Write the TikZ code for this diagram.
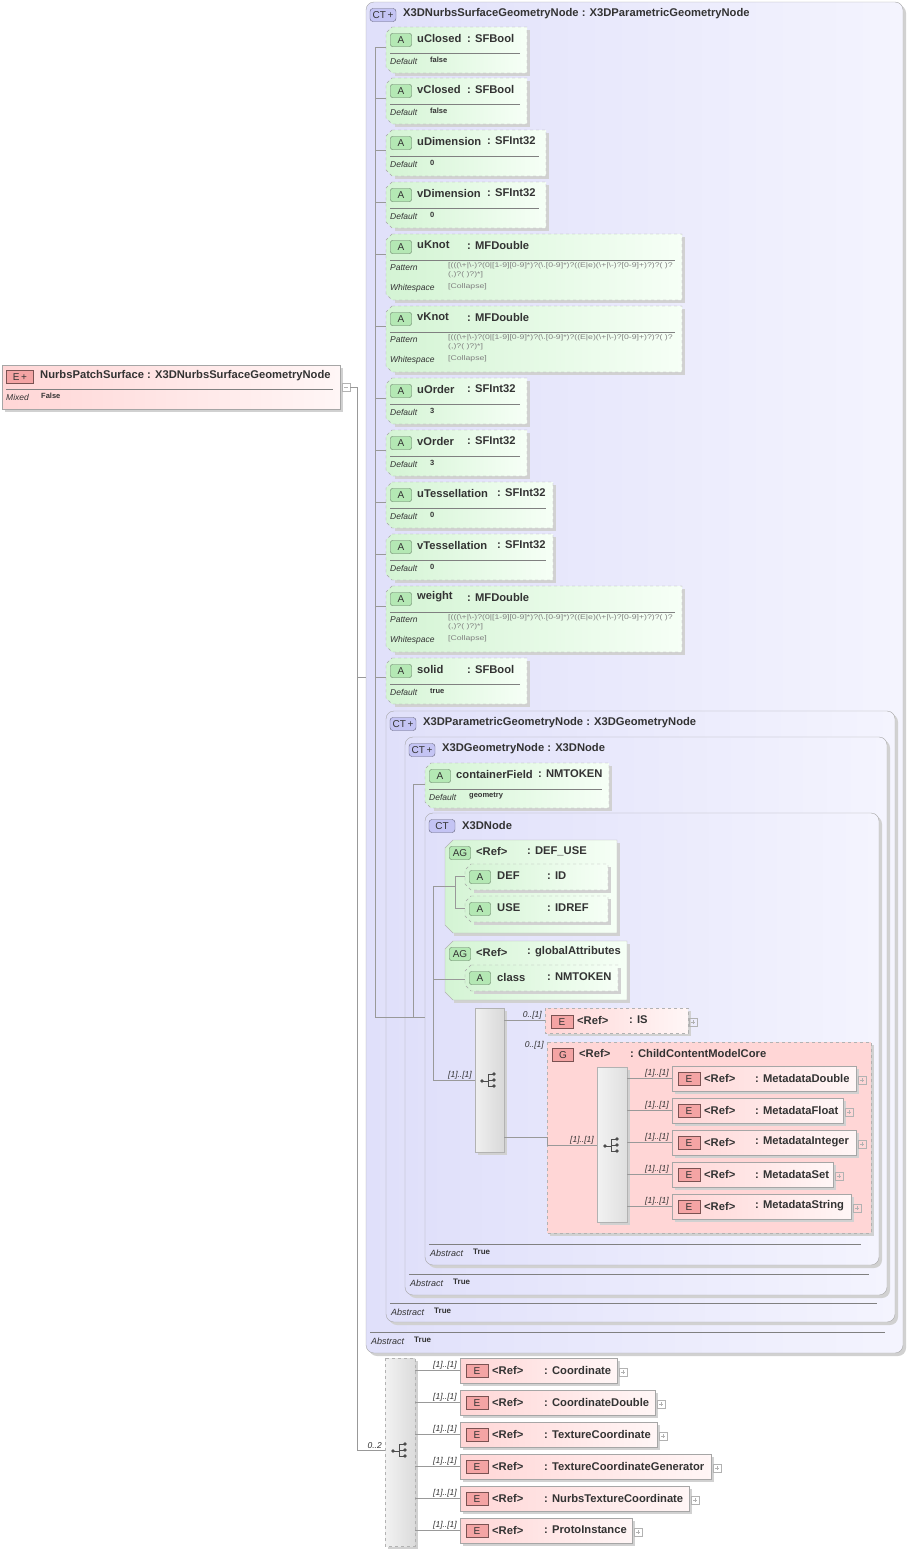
\documentclass[tikz,border=0pt]{standalone}
\usepackage{fontspec}
\setmainfont{Liberation Sans}
\begin{document}
\definecolor{lav}{HTML}{E0E0FA}
\definecolor{lavb}{HTML}{F4F4FE}
\definecolor{gr1}{HTML}{D4F4D4}
\definecolor{gr2}{HTML}{F6FFF6}
\definecolor{pk1}{HTML}{FFD6D6}
\definecolor{pk2}{HTML}{FFF6F6}
\definecolor{ebadge}{HTML}{F4A4A4}
\definecolor{abadge}{HTML}{B4E8B4}
\definecolor{ctbadge}{HTML}{C4C4F4}
\tikzset{
 ln/.style={draw=gray!80,line width=0.6pt},
 tx/.style={anchor=west,inner sep=0,font=\bfseries\fontsize{11.2}{13}\selectfont,text=black!80},
 sm/.style={anchor=west,inner sep=0,font=\itshape\fontsize{8.5}{9}\selectfont,text=black!80},
 smv/.style={anchor=west,inner sep=0,font=\bfseries\fontsize{7.5}{9}\selectfont,text=black!80},
 pat/.style={anchor=north west,inner sep=0,font=\fontsize{6.8}{9.5}\selectfont,text=gray,align=left},
 card/.style={anchor=south east,inner sep=1pt,font=\itshape\fontsize{8.5}{9}\selectfont,text=black!80},
 badge/.style={draw=#1!50!black,fill=#1,rounded corners=2pt,minimum height=13pt,inner sep=1pt,font=\fontsize{10}{11}\selectfont,text=black!80},
 shad/.style={fill=black!18},
}
\newcommand\attrbox[5]{% x top right bottom name
 \fill[shad] (#1+9,#2+3)--(#3+3,#2+3)--(#3+3,#4+3)--(#1+9,#4+3)--cycle;
 \path[draw=gray!70,dashed,left color=gr1,right color=gr2] (#1+6,#2)--(#3,#2)--(#3,#4)--(#1+6,#4)--(#1,#4-6)--(#1,#2+6)--cycle;
 \node[badge=abadge,minimum width=21pt] (#5) at (#1+15,#2+13) {A};
}
\newcommand\attrtext[6]{% x top right name typex type
 \node[tx] at (#1+31,#2+11) {#4};
 \node[tx] at (#5,#2+11) {#6};
 \draw[gray] (#1+4,#2+26)--(#3-7,#2+26);
}
\newcommand\defrow[3]{% x top value
 \node[sm] at (#1+4,#2+34) {Default};
 \node[smv] at (#1+44,#2+33) {#3};
}
\newcommand\patrow[2]{%
 \node[sm] at (#1+4,#2+34) {Pattern};
 \node[pat] at (#1+62,#2+28) {\scalebox{1.28}[1]{[(((\textbackslash+|\textbackslash-)?(0|[1-9][0-9]*)?(\textbackslash.[0-9]*)?((E|e)(\textbackslash+|\textbackslash-)?[0-9]+)?)?( )?}\\\scalebox{1.28}[1]{(,)?( )?)*]}};
 \node[sm] at (#1+4,#2+54) {Whitespace};
 \node[pat,anchor=west] at (#1+62,#2+53) {\scalebox{1.28}[1]{[Collapse]}};
}
\newcommand\elem[6]{% name x ymid right typex type
 \fill[shad] (#2+3,#3-9) rectangle (#4+3,#3+16);
 \path[draw=gray!70,left color=pk1,right color=pk2] (#2,#3-12) rectangle (#4,#3+13);
 \node[badge=ebadge,rounded corners=0pt,minimum width=22pt] (#1) at (#2+17,#3+1) {E};
 \node[tx] at (#2+32,#3) {<Ref>};
 \node[tx] at (#5,#3) {#6};
 \draw[gray!60] (#4+2,#3-2) rectangle (#4+10,#3+6);
 \draw[gray!60] (#4+4,#3+2)--(#4+8,#3+2) (#4+6,#3)--(#4+6,#3+4);
}
\newcommand\seqicon[2]{%
 \fill[black!70] (#1-8,#2+1) circle (1.8);
 \draw[black!70,line width=0.8pt] (#1-8,#2+1)--(#1-2,#2+1) (#1-2,#2-6)--(#1-2,#2+6) (#1-2,#2-6)--(#1+3,#2-6) (#1-2,#2)--(#1+3,#2) (#1-2,#2+6)--(#1+3,#2+6);
 \fill[black!70] (#1+4,#2-6) circle (1.8) (#1+4,#2) circle (1.8) (#1+4,#2+6) circle (1.8);
}
\newcommand\ctbox[7]{% x top right bottom badge title abstracty
 \fill[shad,rounded corners=8pt] (#1+3,#2+3) rectangle (#3+3,#4+3);
 \path[draw=gray!70,rounded corners=8pt,left color=lav,right color=lavb] (#1,#2) rectangle (#3,#4);
 \node[badge=ctbadge,rounded corners=3pt,minimum width=26pt] at (#1+17,#2+13) {#5};
 \node[tx] at (#1+37,#2+12) {#6};
 \draw[gray] (#1+4,#7-8)--(#3-18,#7-8);
 \node[sm,font=\itshape\fontsize{9}{10}\selectfont] at (#1+5,#7+1) {Abstract};
 \node[smv,font=\bfseries\fontsize{8}{9}\selectfont] at (#1+48,#7) {True};
}
\begin{tikzpicture}[x=1pt,y=-1pt]
\useasboundingbox (0,0) rectangle (908,1550);
% root
\fill[shad] (5,368) rectangle (343,412);
\path[draw=gray!70,left color=pk1,right color=pk2] (2,365) rectangle (340,409);
\node[badge=ebadge,rounded corners=0pt,minimum width=27pt] (root) at (20,377) {E\,+};
\node[tx] at (40,376) {NurbsPatchSurface : X3DNurbsSurfaceGeometryNode};
\draw[gray] (6,389)--(333,389);
\node[sm] at (6,397) {Mixed};
\node[smv] at (41,396) {False};
\draw[gray!60] (342,383) rectangle (350,391);
\draw[gray!60] (344,387)--(348,387);
\coordinate (j0) at (357,387);
\draw[ln] (350,387)--(j0)--(357,1450)--(385,1450);
\draw[ln] (357,677)--(375,677);
% outer CT boxes
\ctbox{366}{2}{903}{1353}{CT\,+}{X3DNurbsSurfaceGeometryNode : X3DParametricGeometryNode}{1340}
\draw[ln] (375,47)--(375,1017);
\foreach \y in {47,98,150,202,254,326,398,450,502,554,606,677} \draw[ln] (375,\y)--(386,\y);
% attributes
\attrbox{386}{27}{527}{73}{a1}\attrtext{386}{27}{527}{uClosed}{467}{: SFBool}\defrow{386}{27}{false}
\attrbox{386}{78}{527}{124}{a2}\attrtext{386}{78}{527}{vClosed}{467}{: SFBool}\defrow{386}{78}{false}
\attrbox{386}{130}{546}{176}{a3}\attrtext{386}{130}{546}{uDimension}{487}{: SFInt32}\defrow{386}{130}{0}
\attrbox{386}{182}{546}{228}{a4}\attrtext{386}{182}{546}{vDimension}{487}{: SFInt32}\defrow{386}{182}{0}
\attrbox{386}{234}{682}{300}{a5}\attrtext{386}{234}{682}{uKnot}{467}{: MFDouble}\patrow{386}{234}
\attrbox{386}{306}{682}{372}{a6}\attrtext{386}{306}{682}{vKnot}{467}{: MFDouble}\patrow{386}{306}
\attrbox{386}{378}{527}{424}{a7}\attrtext{386}{378}{527}{uOrder}{467}{: SFInt32}\defrow{386}{378}{3}
\attrbox{386}{430}{527}{476}{a8}\attrtext{386}{430}{527}{vOrder}{467}{: SFInt32}\defrow{386}{430}{3}
\attrbox{386}{482}{553}{528}{a9}\attrtext{386}{482}{553}{uTessellation}{497}{: SFInt32}\defrow{386}{482}{0}
\attrbox{386}{534}{553}{580}{a10}\attrtext{386}{534}{553}{vTessellation}{497}{: SFInt32}\defrow{386}{534}{0}
\attrbox{386}{586}{682}{652}{a11}\attrtext{386}{586}{682}{weight}{467}{: MFDouble}\patrow{386}{586}
\attrbox{386}{658}{527}{704}{a12}\attrtext{386}{658}{527}{solid}{467}{: SFBool}\defrow{386}{658}{true}
\ctbox{386}{711}{895}{1322}{CT\,+}{X3DParametricGeometryNode : X3DGeometryNode}{1311}
\ctbox{405}{737}{887}{1295}{CT\,+}{X3DGeometryNode : X3DNode}{1282}
\draw[ln] (375,1017)--(433,1017);
\draw[ln] (413,784)--(413,1017);
\draw[ln] (413,784)--(425,784);
\attrbox{425}{763}{609}{808}{cf}\attrtext{425}{763}{609}{containerField}{538}{: NMTOKEN}\defrow{425}{763}{geometry}
\ctbox{425}{813}{879}{1265}{CT}{X3DNode}{1252}
\draw[ln] (433,886)--(433,1080);
\draw[ln] (433,886)--(445,886) (433,979)--(445,979);
% AG DEF_USE
\fill[shad] (454,843)--(620,843)--(620,936)--(454,936)--cycle;
\path[draw=gray!60,left color=gr1,right color=gr2] (453,840)--(617,840)--(617,933)--(453,933)--(445,925)--(445,848)--cycle;
\node[badge=abadge,minimum width=21pt] (ag1) at (460,853) {AG};
\node[tx] at (476,851) {<Ref>};\node[tx] at (527,851) {: DEF\_USE};
\draw[ln] (445,886)--(455,886) (455,876)--(455,908) (455,876)--(465,876) (455,908)--(465,908);
\attrbox{465}{864}{608}{890}{def}\node[tx] at (497,876) {DEF};\node[tx] at (547,876) {: ID};
\attrbox{465}{896}{608}{922}{use}\node[tx] at (497,908) {USE};\node[tx] at (547,908) {: IDREF};
% AG global
\fill[shad] (454,944)--(630,944)--(630,1003)--(454,1003)--cycle;
\path[draw=gray!60,left color=gr1,right color=gr2] (453,941)--(627,941)--(627,1000)--(453,1000)--(445,992)--(445,949)--cycle;
\node[badge=abadge,minimum width=21pt] (ag2) at (460,954) {AG};
\node[tx] at (476,952) {<Ref>};\node[tx] at (527,952) {: globalAttributes};
\draw[ln] (445,979)--(465,979);
\attrbox{465}{965}{618}{991}{cls}\node[tx] at (497,977) {class};\node[tx] at (547,977) {: NMTOKEN};
% sequence 1
\fill[shad] (478,1011) rectangle (507,1155);
\path[draw=gray!60,left color=gray!12,right color=gray!30] (475,1008) rectangle (504,1152);
\seqicon{490}{1080}
\draw[ln] (433,1080)--(475,1080);
\node[card] at (473,1080) {[1]..[1]};
\draw[ln] (504,1020)--(545,1020);
\node[card] at (543,1020) {0..[1]};
\fill[shad] (548,1011) rectangle (691,1036);
\path[draw=gray!60,dashed,left color=pk1,right color=pk2] (545,1008) rectangle (688,1033);
\node[badge=ebadge,rounded corners=0pt,minimum width=22pt] (is) at (562,1022) {E};
\node[tx] at (577,1020) {<Ref>};\node[tx] at (629,1020) {: IS};
\draw[gray!60] (689,1018) rectangle (697,1026);\draw[gray!60] (691,1022)--(695,1022) (693,1020)--(693,1024);
% group
\fill[shad] (550,1045) rectangle (874,1236);
\path[draw=gray!60,dashed,fill=pk1] (547,1042) rectangle (871,1233);
\node[card] at (545,1050) {0..[1]};
\node[badge=ebadge,rounded corners=0pt,minimum width=21pt] (grp) at (563,1055) {G};
\node[tx] at (579,1053) {<Ref>};\node[tx] at (630,1053) {: ChildContentModelCore};
\draw[ln] (504,1137)--(547,1137)--(547,1145)--(597,1145);
\node[card] at (595,1145) {[1]..[1]};
\fill[shad] (600,1070) rectangle (630,1225);
\path[draw=gray!60,left color=gray!10,right color=gray!25] (597,1067) rectangle (627,1222);
\seqicon{613}{1145}
\foreach \y in {1078,1110,1142,1174,1206} {\draw[ln] (627,\y)--(672,\y); \node[card] at (670,\y) {[1]..[1]};}
\elem{m1}{672}{1078}{856}{755}{: MetadataDouble}
\elem{m2}{672}{1110}{843}{755}{: MetadataFloat}
\elem{m3}{672}{1142}{856}{755}{: MetadataInteger}
\elem{m4}{672}{1174}{833}{755}{: MetadataSet}
\elem{m5}{672}{1206}{851}{755}{: MetadataString}
% bottom sequence
\fill[shad] (388,1361) rectangle (418,1549);
\path[draw=gray!60,dashed,left color=gray!10,right color=gray!28] (385,1358) rectangle (415,1546);
\seqicon{401}{1450}
\node[card] at (383,1450) {0..2};
\foreach \y in {1370,1402,1434,1466,1498,1530} {\draw[ln] (415,\y)--(460,\y); \node[card] at (458,\y) {[1]..[1]};}
\elem{c1}{460}{1370}{617}{544}{: Coordinate}
\elem{c2}{460}{1402}{655}{544}{: CoordinateDouble}
\elem{c3}{460}{1434}{657}{544}{: TextureCoordinate}
\elem{c4}{460}{1466}{711}{544}{: TextureCoordinateGenerator}
\elem{c5}{460}{1498}{689}{544}{: NurbsTextureCoordinate}
\elem{c6}{460}{1530}{632}{544}{: ProtoInstance}
\end{tikzpicture}
\end{document}
